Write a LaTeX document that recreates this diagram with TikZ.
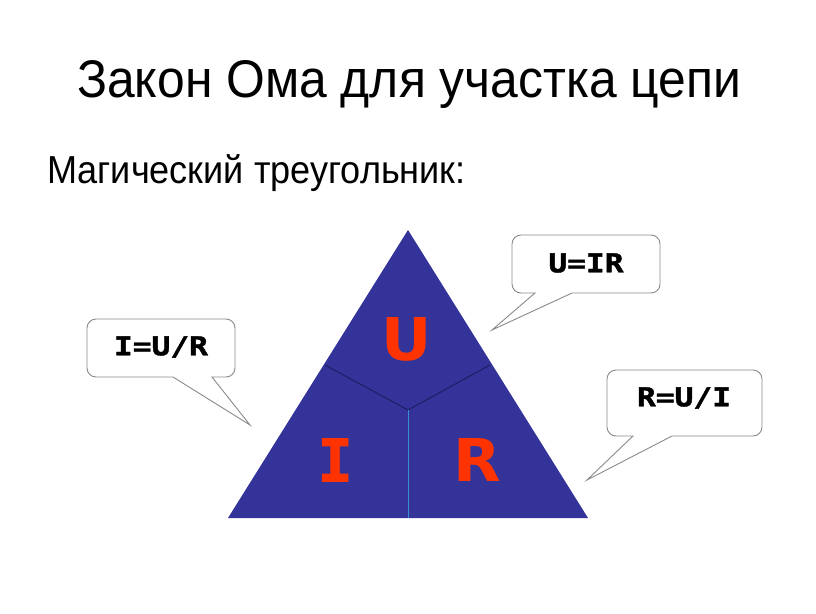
\documentclass[tikz,border=0pt]{standalone}
\usepackage{fontspec}
\setmainfont{Liberation Sans}
\newfontfamily\boldsans{DejaVu Sans}[BoldFont={DejaVu Sans Bold}]
\newfontfamily\boldmono{DejaVu Sans Mono}[BoldFont={DejaVu Sans Mono Bold},BoldFeatures={FakeBold=1.5}]
\definecolor{trifill}{HTML}{333399}
\definecolor{trisep}{HTML}{1C1C5E}
\definecolor{trivert}{HTML}{3A8FD0}
\definecolor{letter}{HTML}{FF3300}
\definecolor{callborder}{HTML}{8A8A8A}
\tikzset{
  letternode/.style={text=letter, inner sep=0pt},
  formulanode/.style={inner sep=0pt, text=black},
  callout/.style={draw=callborder, line width=0.9pt, fill=white, line join=miter},
}
\begin{document}
\begin{tikzpicture}[x=1pt,y=-1pt]
\useasboundingbox (0,0) rectangle (816,613);
% title
\node[anchor=base west, inner sep=0pt] (title) at (77,97)
  {\fontsize{53}{60}\selectfont\scalebox{0.94}[1]{Закон Ома для участка цепи}};
\node[anchor=base west, inner sep=0pt] (sub) at (47,183)
  {\fontsize{39}{45}\selectfont\scalebox{0.925}[1]{Магический треугольник:}};
% triangle
\coordinate (apex) at (408,230);
\coordinate (bl) at (228,518);
\coordinate (br) at (588,518);
\coordinate (ctr) at (408,410);
\coordinate (ml) at (325,365);
\coordinate (mr) at (490,365);
\coordinate (mb) at (408,518);
\fill[trifill] (apex) -- (bl) -- (br) -- cycle;
\draw[trisep, line width=0.9pt] (ml) -- (ctr) -- (mr);
\draw[trivert, line width=0.9pt] (ctr) -- (mb);
\node[letternode] (U) at (407,339) {\fontsize{59}{64}\selectfont\boldsans\bfseries\scalebox{1.05}[1]{U}};
\node[letternode] (I) at (335,460) {\fontsize{59}{64}\selectfont\boldmono\bfseries I};
\node[letternode] (R) at (477,460) {\fontsize{59}{64}\selectfont\boldsans\bfseries\scalebox{1.05}[1]{R}};
% callout I=U/R
\draw[callout] (212,377) -- (250,425) -- (173,377)
  [rounded corners=9pt] -- (87,377) -- (87,319) -- (235,319) -- (235,377) [sharp corners] -- cycle;
\node[formulanode] (f1) at (161,347) {\fontsize{26}{30}\selectfont\boldmono\bfseries\scalebox{1.2}[1]{I=U/R}};
% callout U=IR
\draw[callout] (572,293) -- (492,330) -- (535,293)
  [rounded corners=9pt] -- (512,293) -- (512,235) -- (660,235) -- (660,293) [sharp corners] -- cycle;
\node[formulanode] (f2) at (586,263) {\fontsize{26}{30}\selectfont\boldmono\bfseries\scalebox{1.2}[1]{U=IR}};
% callout R=U/I
\draw[callout] (672,436) -- (587,480) -- (633,436)
  [rounded corners=9pt] -- (607,436) -- (607,370) -- (762,370) -- (762,436) [sharp corners] -- cycle;
\node[formulanode] (f3) at (684,398) {\fontsize{26}{30}\selectfont\boldmono\bfseries\scalebox{1.2}[1]{R=U/I}};
\end{tikzpicture}
\end{document}
